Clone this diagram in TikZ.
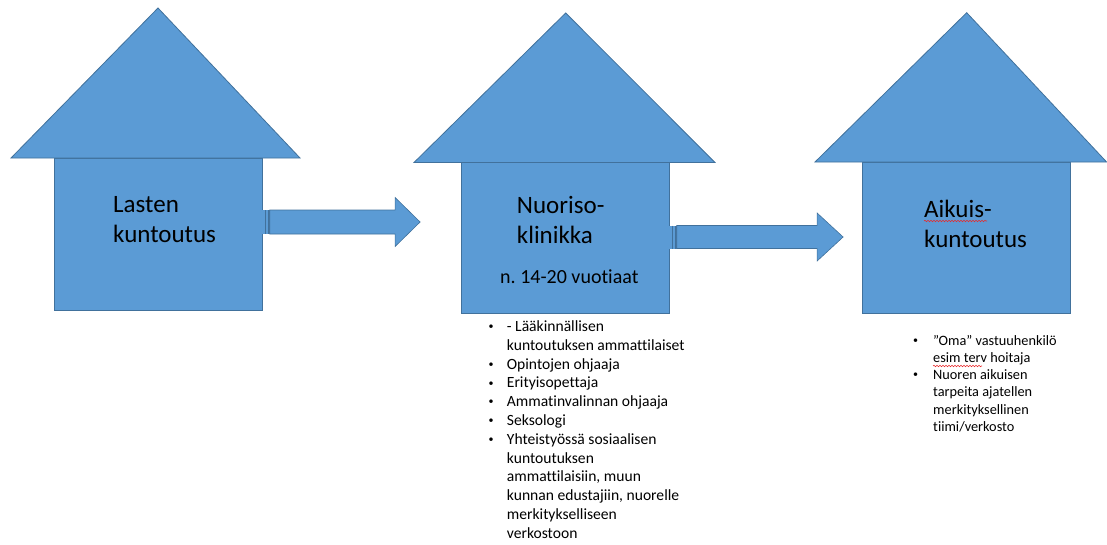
\documentclass[tikz,border=0pt]{standalone}
\usepackage{fontspec}
\setmainfont{Carlito}[Ligatures=NoCommon]
\usetikzlibrary{calc,decorations.pathmorphing}
\definecolor{hfill}{HTML}{5B9BD5}
\definecolor{hline}{HTML}{41719C}
\definecolor{wavy}{HTML}{E8292B}
\frenchspacing
\newcommand\smbul{\hspace*{1.5pt}\raisebox{0.25ex}{\fontsize{10}{10}\selectfont •}}
\tikzset{
  housebody/.style={draw=hline, fill=hfill, line width=0.8pt, rectangle, inner sep=0pt},
  roof/.style={draw=hline, fill=hfill, line width=0.8pt, line join=miter},
  arrowpart/.style={draw=hline, fill=hfill, line width=0.6pt},
  stripe/.style={draw=hline, line width=1.4pt},
  title/.style={anchor=base west, align=left, inner sep=0pt, font=\fontsize{25}{30}\selectfont},
  listtext/.style={anchor=base west, inner sep=0pt},
  spell/.style={draw=wavy, line width=0.6pt, decorate, decoration={snake, amplitude=0.7pt, segment length=3pt}}
}
\newcommand\stripedarrow[5]{% start, tip, shaft half, head half, head length
  \fill[hfill] let \p1=(#1) in (\x1,\y1+#3) rectangle (\x1+8pt,\y1-#3);
  \draw[stripe] let \p1=(#1) in (\x1+2.8pt,\y1+#3) -- (\x1+2.8pt,\y1-#3)
    (\x1+6.6pt,\y1+#3) -- (\x1+6.6pt,\y1-#3);
  \path[arrowpart] let \p1=(#1), \p2=(#2) in
    (\x1+7.3pt,\y1+#3) -- (\x2-#5,\y1+#3) -- (\x2-#5,\y1+#4) -- (\x2,\y2)
    -- (\x2-#5,\y1-#4) -- (\x2-#5,\y1-#3) -- (\x1+7.3pt,\y1-#3) -- cycle;
}
\begin{document}
\begin{tikzpicture}[x=1pt,y=-1pt]
\useasboundingbox (0,0) rectangle (1107,544);

% house bodies
\node[housebody, minimum width=208pt, minimum height=152pt] (b1) at (158,234) {};
\node[housebody, minimum width=208pt, minimum height=150.5pt] (b2) at (565,238) {};
\node[housebody, minimum width=208pt, minimum height=151pt] (b3) at (966,237.5) {};

% roofs
\draw[roof] (11,158) -- (158,8) -- (300,158) -- cycle;
\draw[roof] (414,162.5) -- (565.7,13) -- (715,162.5) -- cycle;
\draw[roof] (815,162) -- (966.7,12.7) -- (1106.6,162) -- cycle;

% arrows
\coordinate (a1s) at (b1.east |- 0,222);
\coordinate (a1t) at ($(b2.west |- a1s)+(-40.5,0)$);
\coordinate (a2s) at (b2.east |- 0,237);
\coordinate (a2t) at ($(b3.west |- a2s)+(-18.5,0)$);
\stripedarrow{a1s}{a1t}{12pt}{24.5pt}{25pt}
\stripedarrow{a2s}{a2t}{11.5pt}{24pt}{26pt}

% titles (base anchor = last line)
\node[title] (t1) at (113,242) {Lasten\\kuntoutus};
\node[title] (t2) at (516.7,243.5) {Nuoriso-\\klinikka};
\node[anchor=base west, inner sep=0pt, font=\fontsize{20}{24}\selectfont] (t2b) at (500,283) {n. 14-20 vuotiaat};
\node[title] (t3) at (924,247.5) {Aikuis-\\kuntoutus};

% lists
\node[listtext] (l2) at (486.8,331.5) {\fontsize{15.6}{18.8}\selectfont
\begin{tabular}[t]{@{}p{19.9pt}@{}l@{}}
\smbul & - Lääkinnällisen\\
  & kuntoutuksen ammattilaiset\\
\smbul & Opintojen ohjaaja\\
\smbul & Erityisopettaja\\
\smbul & Ammatinvalinnan ohjaaja\\
\smbul & Seksologi\\
\smbul & Yhteistyössä sosiaalisen\\
  & kuntoutuksen\\
  & ammattilaisiin, muun\\
  & kunnan edustajiin, nuorelle\\
  & merkitykselliseen\\
  & verkostoon
\end{tabular}};

\node[listtext] (l3) at (911.4,345) {\fontsize{14.3}{17.3}\selectfont
\begin{tabular}[t]{@{}p{21.6pt}@{}l@{}}
\smbul & ”Oma” vastuuhenkilö\\
  & esim terv hoitaja\\
\smbul & Nuoren aikuisen\\
  & tarpeita ajatellen\\
  & merkityksellinen\\
  & tiimi/verkosto
\end{tabular}};

% spell-check squiggles
\draw[spell] (924,221) -- (987,221);
\draw[spell] (933,366) -- (982,366);
\end{tikzpicture}
\end{document}
